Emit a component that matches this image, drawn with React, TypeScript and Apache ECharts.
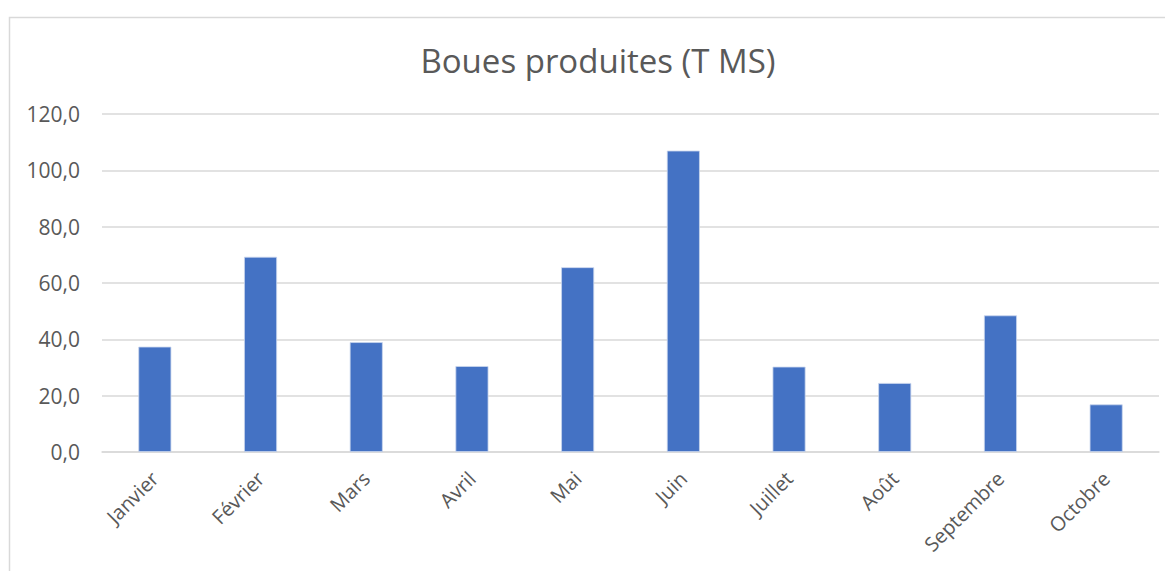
import React, { useEffect, useRef } from "react";
import * as echarts from "echarts";

const months = ["Janvier", "Février", "Mars", "Avril", "Mai", "Juin", "Juillet", "Août", "Septembre", "Octobre"];
const boues = [37.4, 69.3, 39.0, 30.5, 65.6, 107.0, 30.3, 24.5, 48.5, 16.9];
const yTicks = { min: 0, max: 120, interval: 20 };
const titleText = "Boues produites (T MS)";

export default function App() {
  const ref = useRef<HTMLDivElement>(null);
  useEffect(() => {
    if (!ref.current) return;
    const chart = echarts.init(ref.current, null, { renderer: "svg" });
    chart.setOption({
      animation: false,
      backgroundColor: "#ffffff",
      graphic: [
        {
          type: "rect",
          left: 0,
          top: 7,
          shape: { x: 0, y: 0, width: 1300, height: 700 },
          style: { fill: "none", stroke: "#D9D9D9", lineWidth: 1.5 },
          silent: true,
          z: -1,
        },
        {
          type: "text",
          x: 591,
          y: 52,
          style: {
            text: titleText,
            fill: "#595959",
            font: "33px 'Open Sans'",
            align: "center",
            verticalAlign: "middle",
          },
        },
      ],
      grid: { left: 95, top: 106, right: 14, bottom: 119, containLabel: false },
      xAxis: {
        type: "category",
        data: months,
        axisLine: { show: true, lineStyle: { color: "#D9D9D9", width: 1.5 } },
        axisTick: { show: false },
        axisLabel: {
          rotate: 45,
          interval: 0,
          color: "#595959",
          fontFamily: "Open Sans",
          fontSize: 20,
          margin: 23,
        },
      },
      yAxis: {
        type: "value",
        min: yTicks.min,
        max: yTicks.max,
        interval: yTicks.interval,
        axisLine: { show: false },
        axisTick: { show: false },
        splitLine: { lineStyle: { color: "#D9D9D9", width: 1.5 } },
        axisLabel: {
          color: "#595959",
          fontFamily: "Open Sans",
          fontSize: 21,
          margin: 22,
          formatter: (v: number) => v.toFixed(1).replace(".", ","),
        },
      },
      series: [
        {
          type: "bar",
          data: boues,
          barWidth: 33,
          itemStyle: { color: "#4472C4", borderColor: "#C9D6EE", borderWidth: 0.8 },
        },
      ],
    });
    return () => chart.dispose();
  }, []);
  return <div ref={ref} style={{ width: 1166, height: 563, position: "relative", left: -1 }} />;
}
